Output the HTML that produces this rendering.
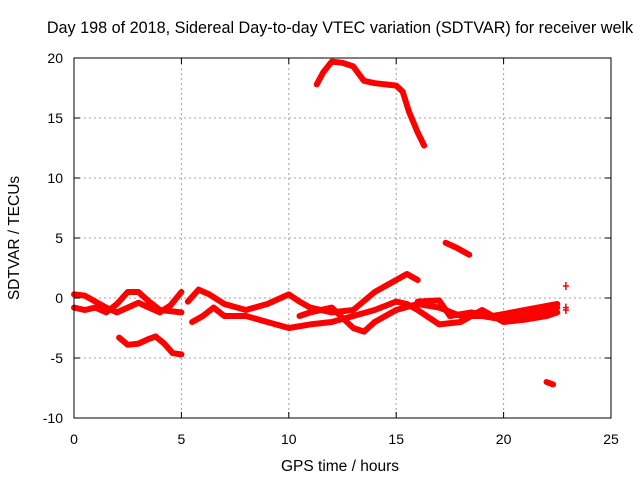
<!DOCTYPE html>
<html><head><meta charset="utf-8"><style>
body{margin:0;background:#fff;width:640px;height:480px;overflow:hidden}
svg text{font-family:"Liberation Sans",sans-serif;font-size:14px;fill:#000}
</style></head><body>
<svg id="chart" width="640" height="480" xmlns="http://www.w3.org/2000/svg">
<g id="grid"></g>
<g id="series"></g>
<rect x="74" y="58" width="537" height="360" fill="none" stroke="#000" stroke-width="1"/>
<g id="ticks"></g>
<text x="340" y="33" text-anchor="middle" style="font-size:16.2px">Day 198 of 2018, Sidereal Day-to-day VTEC variation (SDTVAR) for receiver welk</text>
<text x="340" y="471" text-anchor="middle" style="font-size:15.5px">GPS time / hours</text>
<text transform="translate(19,238) rotate(-90)" text-anchor="middle" style="font-size:15.5px">SDTVAR / TECUs</text>
</svg>
<script>
const xTicks=[0,5,10,15,20,25];
const yTicks=[-10,-5,0,5,10,15,20];
const trackTop=[[11.3,17.8],[11.6,18.8],[12,19.7],[12.5,19.6],[13,19.3],[13.5,18.1],[14,17.9],[14.5,17.8],[15,17.7],[15.3,17.2],[15.6,15.5],[16,13.8],[16.3,12.7]];
const trackMid=[[17.3,4.6],[17.8,4.2],[18.4,3.6]];
const trackLow=[[2.1,-3.3],[2.5,-3.9],[3,-3.8],[3.5,-3.4],[3.8,-3.2],[4.2,-3.8],[4.6,-4.6],[5,-4.7]];
const trackBottom=[[22,-7.0],[22.3,-7.2]];
const trackA=[[0,0.3],[0.5,0.2],[1,-0.3],[1.5,-0.8],[2,-1.2],[2.5,-0.8],[3,-0.4],[3.5,-0.8],[4,-1.2],[4.5,-0.6],[5,0.5]];
const trackB=[[0,-0.8],[0.5,-1.0],[1,-0.8],[1.5,-1.2],[2,-0.5],[2.5,0.5],[3,0.5],[3.5,-0.3],[4,-1.0],[5,-1.2]];
const trackC=[[5.5,-2.0],[6,-1.5],[6.5,-0.8],[7,-1.5],[8,-1.5],[9,-2.0],[10,-2.5],[11,-2.2],[12,-2.0],[13,-1.5],[14,-1.0],[15,-0.3],[15.5,-0.5]];
const trackD=[[5.3,-0.3],[5.8,0.7],[6.3,0.3],[7,-0.5],[8,-1.0],[9,-0.5],[10,0.3],[10.5,-0.3],[11,-0.8],[12,-1.2],[13,-1.0],[14,0.5],[15,1.5],[15.5,2.0],[16,1.5]];
const trackE=[[10.5,-1.5],[11,-1.2],[12,-0.8],[13,-2.5],[13.5,-2.8],[14,-2.0],[15,-1.0],[16,-0.5],[17,-0.8],[18,-1.5],[19,-1.5],[20,-1.8],[21,-1.5],[22,-1.0],[22.5,-0.8]];
const trackF=[[15.5,-0.5],[16,-1.0],[17,-2.2],[18,-2.0],[19,-1.0],[20,-2.0],[21,-1.8],[22,-1.5],[22.5,-1.2]];
const trackG=[[16,-0.3],[17,-0.2],[17.5,-1.5],[18.5,-1.2],[19.5,-1.5],[21,-1.0],[22.5,-0.5]];
const isolated=[[22.9,1.0],[22.9,-0.8],[22.9,-1.0]];
const tracks=[trackTop,trackMid,trackLow,trackBottom,trackA,trackB,trackC,trackD,trackE,trackF,trackG];

const X0=74,X1=611,Y0=418,Y1=58;
const sx=v=>X0+(v-0)/(25-0)*(X1-X0);
const sy=v=>Y0-(v+10)/30*(Y0-Y1);
const NS="http://www.w3.org/2000/svg";
function mk(t,a,p){const e=document.createElementNS(NS,t);for(const k in a)e.setAttribute(k,a[k]);p.appendChild(e);return e;}
const grid=document.getElementById('grid'),ticks=document.getElementById('ticks'),ser=document.getElementById('series');
xTicks.forEach(v=>{
  const x=sx(v);
  if(v>0&&v<25){const l=mk('line',{x1:x,x2:x,y1:Y1,y2:Y0,stroke:'#a0a0a0','stroke-dasharray':'2,3'},grid);
  
  }
  const tm=mk('path',{d:`M${x},${Y0}v-6M${x},${Y1}v6`,stroke:'#000'},ticks);
  
  
  const t=mk('text',{x:x,y:Y0+26,'text-anchor':'middle'},ticks);t.textContent=v;
  
  
});
yTicks.forEach(v=>{
  const y=sy(v);
  if(v>-10&&v<20){const l=mk('line',{x1:X0,x2:X1,y1:y,y2:y,stroke:'#a0a0a0','stroke-dasharray':'2,3'},grid);
  
  }
  const tm=mk('path',{d:`M${X0},${y}h6M${X1},${y}h-6`,stroke:'#000'},ticks);
  
  
  const t=mk('text',{x:X0-11,y:y+5,'text-anchor':'end'},ticks);t.textContent=v;
  
  
});
tracks.forEach(tr=>{
  const p=mk('polyline',{points:tr.map(d=>sx(d[0])+','+sy(d[1])).join(' '),fill:'none',stroke:'#ff0000','stroke-width':6,'stroke-linejoin':'round','stroke-linecap':'round'},ser);
  
  
});
isolated.forEach(d=>{
  const x=sx(d[0]),y=sy(d[1]);
  const p=mk('path',{d:`M${x-3},${y}H${x+3}M${x},${y-4}V${y+4}`,stroke:'#ff0000','stroke-width':1.5},ser);
  
  
});
</script>
</body></html>
